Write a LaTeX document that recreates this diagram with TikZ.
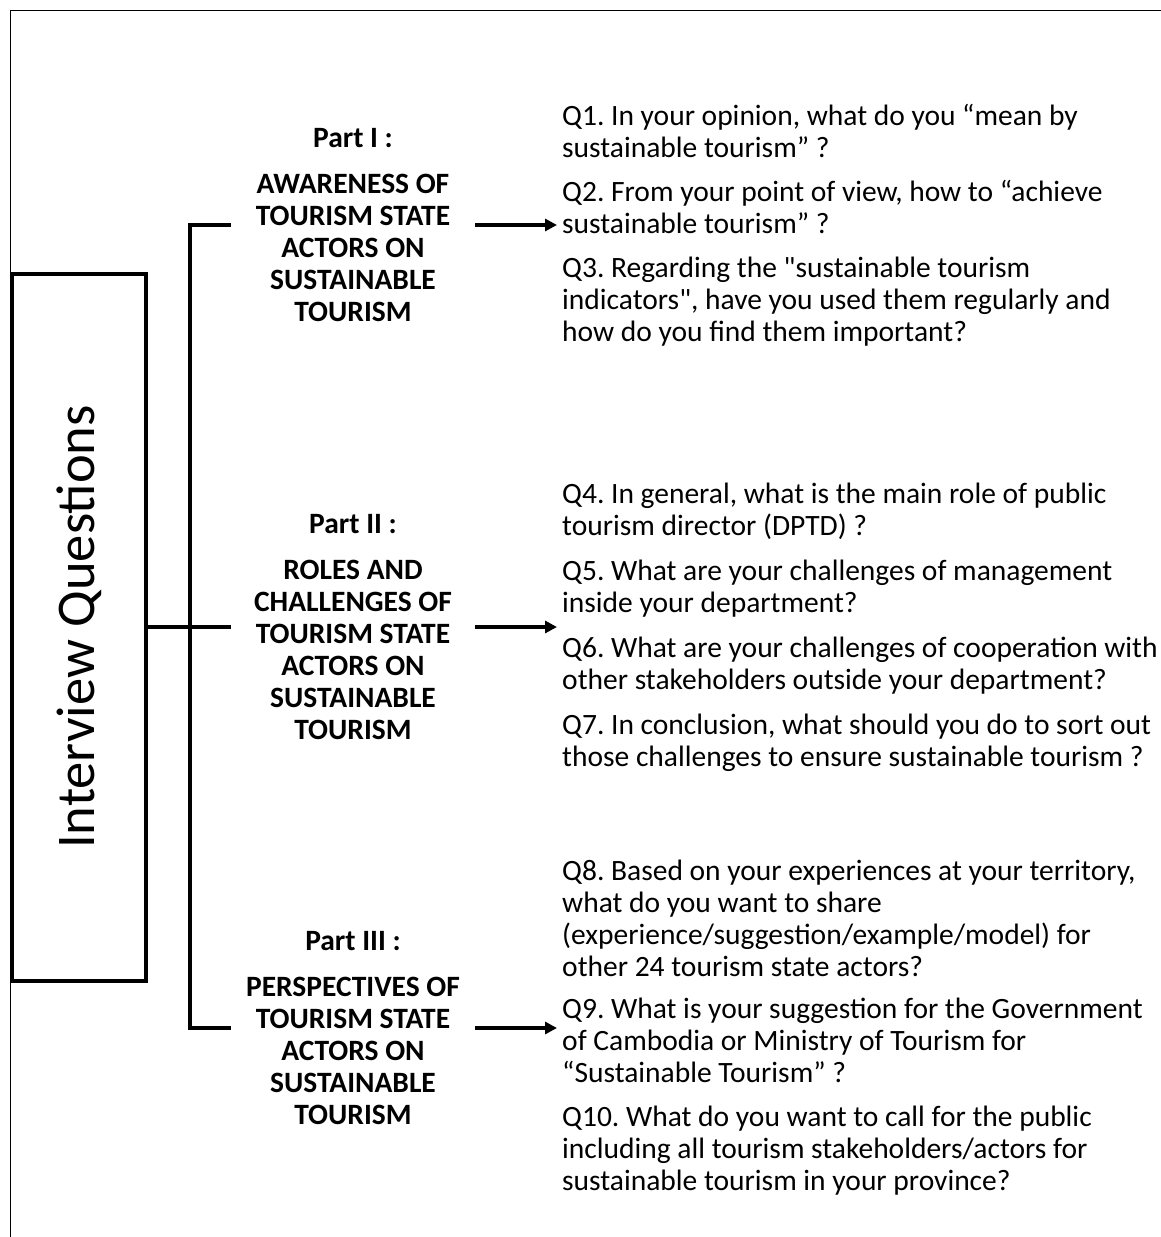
\documentclass[tikz,border=0pt]{standalone}
\usepackage{fontspec}
\setmainfont{Carlito}
\usetikzlibrary{arrows.meta, positioning}

\tikzset{
  outerline/.style={line width=1.5pt},
  bar/.style={line width=4pt},
  qbox/.style={draw, line width=4pt, minimum width=134pt, minimum height=707pt, inner sep=0pt},
  parthead/.style={align=center, minimum width=244pt, inner sep=0pt, font={\bfseries\frenchspacing\fontsize{29.5}{32}\selectfont}},
  qtext/.style={align=left, anchor=west, inner xsep=5pt, inner ysep=0pt, font={\frenchspacing\fontsize{29.5}{32}\selectfont}},
  arr/.style={line width=4pt, -{Triangle[length=12pt,width=12pt]}}
}

\begin{document}
\begin{tikzpicture}[x=1pt, y=-1pt]
  \useasboundingbox (0,0) rectangle (1161,1237);

  % Frame
  \draw[outerline] (10.5,1237) |- (1161,10.5);

  % Interview Questions
  \node[qbox] (iq) at (79,627) {};
  \node[rotate=90, font={\fontsize{54.5}{60}\selectfont}] (iqtext) at (iq.center) {Interview Questions};

  % Parts
  \node[parthead] (p1) at (353,225) {Part I :\\[14pt]AWARENESS OF\\TOURISM STATE\\ACTORS ON\\SUSTAINABLE\\TOURISM};
  \node[parthead] (p2) at (353,627) {Part II :\\[14pt]ROLES AND\\CHALLENGES OF\\TOURISM STATE\\ACTORS ON\\SUSTAINABLE\\TOURISM};
  \node[parthead] (p3) at (353,1028) {Part III :\\[14pt]PERSPECTIVES OF\\TOURISM STATE\\ACTORS ON\\SUSTAINABLE\\TOURISM};

  % Questions
  \node[qtext] (qs1) at (557,225) {Q1. In your opinion, what do you “mean by\\
    sustainable tourism” ?\\[12pt]
    Q2. From your point of view, how to “achieve\\
    sustainable tourism” ?\\[12pt]
    Q3. Regarding the \textquotedbl sustainable tourism\\
    indicators\textquotedbl, have you used them regularly and\\
    how do you find them important?};
  \node[qtext] (qs2) at (557,627) {Q4. In general, what is the main role of public\\
    tourism director (DPTD) ?\\[13pt]
    Q5. What are your challenges of management\\
    inside your department?\\[13pt]
    Q6. What are your challenges of cooperation with\\
    other stakeholders outside your department?\\[13pt]
    Q7. In conclusion, what should you do to sort out\\
    those challenges to ensure sustainable tourism ?};
  \node[qtext] (qs3) at (557,1028) {Q8. Based on your experiences at your territory,\\
    what do you want to share\\
    (experience/suggestion/example/model) for\\
    other 24 tourism state actors?\\[10pt]
    Q9. What is your suggestion for the Government\\
    of Cambodia or Ministry of Tourism for\\
    “Sustainable Tourism” ?\\[12pt]
    Q10. What do you want to call for the public\\
    including all tourism stakeholders/actors for\\
    sustainable tourism in your province?};

  % Bracket
  \draw[bar] (iq.east) -- (p2.west);
  \draw[bar] (p1.west) -- ++(-41,0) |- (p3.west);

  % Arrows
  \draw[arr] (p1.east) -- (qs1.west);
  \draw[arr] (p2.east) -- (qs2.west);
  \draw[arr] (p3.east) -- (qs3.west);
\end{tikzpicture}
\end{document}
